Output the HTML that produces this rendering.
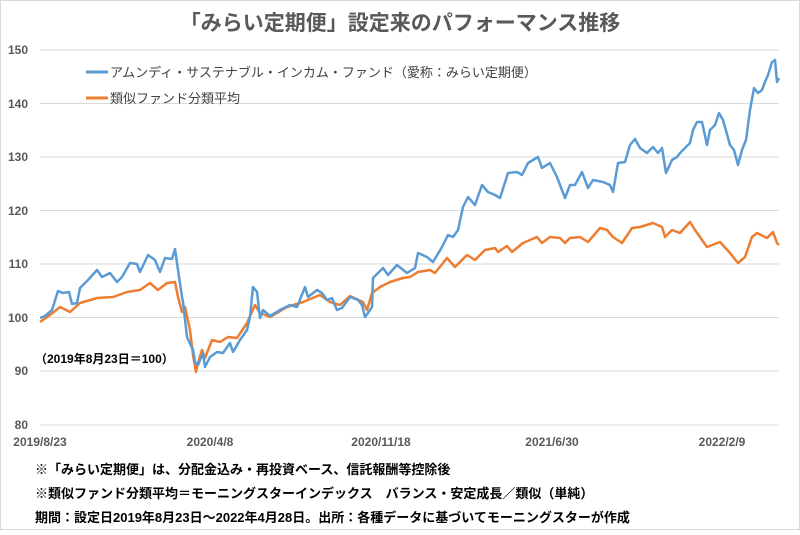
<!DOCTYPE html>
<html><head><meta charset="utf-8"><style>
body{margin:0;background:#fff;}
svg text{font-family:"Liberation Sans","Noto Sans CJK JP",sans-serif;}
</style></head><body>
<svg width="800" height="530" viewBox="0 0 800 530" xmlns="http://www.w3.org/2000/svg">
<rect width="800" height="530" fill="#fff"/>
<rect x="0.5" y="0.5" width="799" height="529" fill="none" stroke="#d9d9d9"/>
<text x="400" y="30" text-anchor="middle" font-size="21" font-weight="bold" fill="#595959">「みらい定期便」設定来のパフォーマンス推移</text>
<g stroke="#d9d9d9" stroke-width="1">
<line x1="40" y1="50" x2="779" y2="50"/><line x1="40" y1="103.5" x2="779" y2="103.5"/>
<line x1="40" y1="157" x2="779" y2="157"/><line x1="40" y1="210.5" x2="779" y2="210.5"/>
<line x1="40" y1="264" x2="779" y2="264"/><line x1="40" y1="317.5" x2="779" y2="317.5"/>
<line x1="40" y1="371" x2="779" y2="371"/><line x1="40" y1="425" x2="779" y2="425"/>
</g>
<g font-size="12" font-weight="bold" fill="#595959" text-anchor="end">
<text x="28" y="54">150</text><text x="28" y="108">140</text><text x="28" y="161">130</text>
<text x="28" y="215">120</text><text x="28" y="268">110</text><text x="28" y="322">100</text>
<text x="28" y="375">90</text><text x="28" y="429">80</text>
</g>
<g font-size="12" font-weight="bold" fill="#595959" text-anchor="middle">
<text x="40" y="446">2019/8/23</text><text x="210" y="446">2020/4/8</text>
<text x="381" y="446">2020/11/18</text><text x="552" y="446">2021/6/30</text>
<text x="722" y="446">2022/2/9</text>
</g>
<text x="35" y="363" font-size="12" font-weight="bold" fill="#000">（2019年8月23日＝100）</text>
<line x1="86" y1="72" x2="108" y2="72" stroke="#5b9bd5" stroke-width="3"/>
<text x="110" y="77" font-size="13" fill="#404040">アムンディ・サステナブル・インカム・ファンド（愛称：みらい定期便）</text>
<line x1="86" y1="98" x2="108" y2="98" stroke="#ed7d31" stroke-width="3"/>
<text x="110" y="103" font-size="13" fill="#404040">類似ファンド分類平均</text>
<polyline fill="none" stroke="#ed7d31" stroke-width="2.5" stroke-linejoin="round" points="40,322 50,315 60,307 70,312 80,303 97,298 113,297 127,292 140,290 150,283 158,290 167,283 175,282 178,297 182,312 185,307 190,330 193,355 196,372 198,363 202,350 205,358 212,340 220,342 228,337 237,338 247,323 255,305 260,313 270,317 287,307 303,302 320,295 330,302 340,305 350,296 363,302 367,310 372,293 380,287 390,282 403,278 410,277 418,272 430,270 435,273 447,258 455,267 467,255 475,260 485,250 495,248 498,252 507,246 512,252 523,243 537,237 542,243 550,237 560,238 565,243 570,238 580,237 588,242 600,228 607,230 613,237 622,243 632,228 640,227 653,223 662,227 665,237 672,230 680,233 690,222 695,230 707,247 720,242 730,253 738,263 745,257 752,237 757,233 767,238 773,232 777,243 779,245"/>
<polyline fill="none" stroke="#5b9bd5" stroke-width="2.5" stroke-linejoin="round" points="40,318 45,316 52,310 58,291 63,293 69,292 72,304 77,303 80,288 88,280 97,270 102,277 110,273 117,282 122,277 130,263 137,264 140,272 148,255 155,260 160,272 165,258 172,259 175,249 177,263 182,297 183,302 187,337 193,350 195,362 198,365 203,353 205,367 210,357 217,352 223,353 230,343 233,352 240,340 247,330 250,317 253,287 257,292 260,318 263,310 270,316 280,310 290,305 297,307 305,287 308,297 317,290 322,293 327,300 332,298 337,310 342,308 350,297 358,300 362,305 365,317 368,313 372,307 373,278 383,268 388,275 397,265 407,273 415,268 418,253 427,257 433,262 442,247 448,235 453,237 458,230 463,207 468,197 475,205 482,185 488,192 495,195 500,198 508,173 517,172 522,175 528,163 538,157 542,168 550,163 557,177 565,198 570,185 575,185 582,172 588,188 593,180 603,182 610,185 613,192 618,163 625,162 630,145 635,139 640,148 647,153 653,147 658,153 662,148 666,173 672,160 677,157 680,153 683,150 690,143 693,130 697,122 702,122 707,145 710,130 715,125 719,113 723,120 730,145 734,150 738,165 742,150 746,140 750,110 754,88 758,93 762,90 765,82 768,75 772,62 775,60 777,82 779,78"/>
<g font-size="13" font-weight="bold" fill="#000">
<text x="35" y="474">※「みらい定期便」は、分配金込み・再投資ベース、信託報酬等控除後</text>
<text x="35" y="498">※類似ファンド分類平均＝モーニングスターインデックス　バランス・安定成長／類似（単純）</text>
<text x="35" y="522">期間：設定日2019年8月23日～2022年4月28日。出所：各種データに基づいてモーニングスターが作成</text>
</g>
</svg>
</body></html>
